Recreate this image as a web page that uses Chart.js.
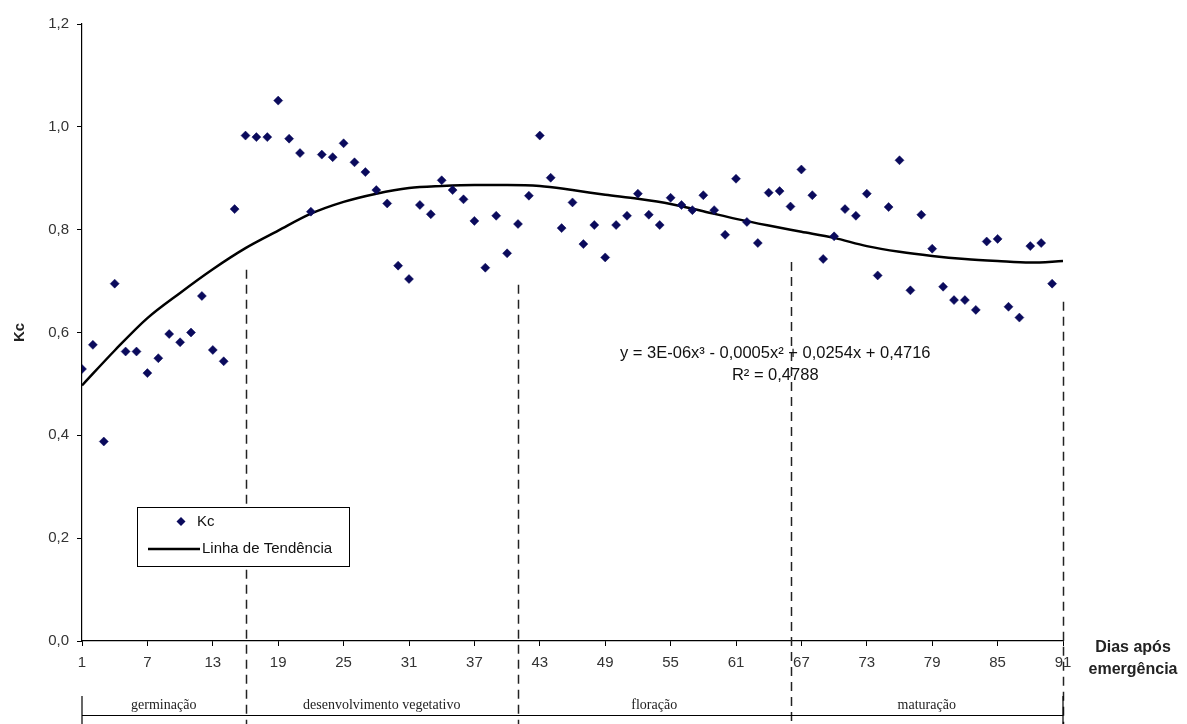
<!DOCTYPE html>
<html><head><meta charset="utf-8">
<script src="https://cdn.jsdelivr.net/npm/chart.js@4.4.1/dist/chart.umd.min.js"></script>
<style>html,body{margin:0;padding:0;background:#fff;}#wrap{width:1187px;height:724px;position:relative;}</style>
</head><body><div id="wrap"><canvas id="c" width="1187" height="724"></canvas></div>
<script>
const days = [1,2,3,4,5,6,7,8,9,10,11,12,13,14,15,16,17,18,19,20,21,22,23,24,25,26,27,28,29,30,
  31,32,33,34,35,36,37,38,39,40,41,42,43,44,45,46,47,48,49,50,51,52,53,54,55,56,57,58,59,60,
  61,62,63,64,65,66,67,68,69,70,71,72,73,74,75,76,77,78,79,80,81,82,83,84,85,86,87,88,89,90];
const kcValues = [0.529,0.576,0.388,0.695,0.563,0.563,0.521,0.550,0.597,0.581,
  0.600,0.671,0.566,0.544,0.840,0.983,0.980,0.980,1.051,0.977,
  0.949,0.835,0.946,0.941,0.968,0.931,0.912,0.877,0.851,0.730,
  0.704,0.848,0.830,0.896,0.877,0.859,0.817,0.726,0.827,0.754,
  0.811,0.866,0.983,0.901,0.803,0.853,0.772,0.809,0.746,0.809,
  0.827,0.870,0.829,0.809,0.862,0.848,0.838,0.867,0.838,0.790,
  0.899,0.815,0.774,0.872,0.875,0.845,0.917,0.867,0.743,0.787,
  0.840,0.827,0.870,0.711,0.844,0.935,0.682,0.829,0.763,0.689,
  0.663,0.663,0.644,0.777,0.782,0.650,0.629,0.768,0.774,0.695];
const trendDays = [1,4,7,10,13,16,19,22,25,28,31,34,37,40,43,46,49,52,55,58,61,64,67,70,73,76,79,82,85,88,91];
const trendValues = [0.497,0.565,0.628,0.677,0.723,0.764,0.798,0.831,0.854,0.870,0.881,0.885,0.887,0.887,0.885,0.877,0.868,0.860,0.850,0.836,0.821,0.808,0.796,0.784,0.768,0.757,0.749,0.743,0.739,0.736,0.739];
const xTickLabels = [1,7,13,19,25,31,37,43,49,55,61,67,73,79,85,91];
const yTickValues = [0,0.2,0.4,0.6,0.8,1.0,1.2];
const phaseNames = ['germinação','desenvolvimento vegetativo','floração','maturação'];
const phaseBounds = [1,16,41,66,91];
const phaseDashTop = [0.722,0.693,0.737,0.660];
const equationLines = ['y = 3E-06x\u00B3 - 0,0005x\u00B2 + 0,0254x + 0,4716','R\u00B2 = 0,4788'];
const yTitle = 'Kc';
const xTitleLines = ['Dias após','emergência'];
const seriesLabels = ['Kc','Linha de Tendência'];

const navy = '#0a0a5c';

const extras = {
  id: 'extras',
  afterDraw(chart) {
    const ctx = chart.ctx, xs = chart.scales.x, ys = chart.scales.y;
    const H = chart.height;
    ctx.save();
    // dashed phase lines
    ctx.strokeStyle = '#222'; ctx.lineWidth = 1.5; ctx.setLineDash([9,6]);
    for (let i = 1; i < phaseBounds.length; i++) {
      const px = Math.round(xs.getPixelForValue(phaseBounds[i])) + 0.5;
      ctx.beginPath(); ctx.moveTo(px, ys.getPixelForValue(phaseDashTop[i-1])); ctx.lineTo(px, H); ctx.stroke();
    }
    ctx.setLineDash([]);
    // phase band
    const bandY = H - 8.5;
    ctx.strokeStyle = '#000'; ctx.lineWidth = 1.2;
    const xl = xs.getPixelForValue(phaseBounds[0]), xr = xs.getPixelForValue(phaseBounds[phaseBounds.length-1]);
    ctx.beginPath(); ctx.moveTo(xl, bandY); ctx.lineTo(xr, bandY); ctx.stroke();
    ctx.beginPath(); ctx.moveTo(xl, H - 28); ctx.lineTo(xl, H); ctx.stroke();
    ctx.beginPath(); ctx.moveTo(xr, H - 28); ctx.lineTo(xr, H); ctx.stroke();
    ctx.fillStyle = '#222'; ctx.font = '14px "Liberation Serif", "DejaVu Serif", serif';
    ctx.textAlign = 'center'; ctx.textBaseline = 'middle';
    for (let i = 0; i < phaseNames.length; i++) {
      const cx = xs.getPixelForValue((phaseBounds[i] + phaseBounds[i+1]) / 2);
      ctx.fillText(phaseNames[i], cx, H - 19);
    }
    // x title
    ctx.fillStyle = '#222'; ctx.font = 'bold 16px "Liberation Sans", Arial, sans-serif';
    ctx.fillText(xTitleLines[0], 1133, 648);
    ctx.fillText(xTitleLines[1], 1133, 670);
    // y title
    ctx.save(); ctx.translate(20, ys.getPixelForValue(0.6)); ctx.rotate(-Math.PI/2);
    ctx.font = 'bold 15px "Liberation Sans", Arial, sans-serif'; ctx.fillText(yTitle, 0, 0); ctx.restore();
    // equation
    ctx.font = '16.5px "Liberation Sans", Arial, sans-serif'; ctx.fillStyle = '#111';
    const ex = xs.getPixelForValue(64.6), ey = ys.getPixelForValue(0.56);
    ctx.fillText(equationLines[0], ex, ey);
    ctx.fillText(equationLines[1], ex, ey + 22);
    // legend
    const lx = 137, ly = 507, lw = 212, lh = 59;
    ctx.fillStyle = '#fff'; ctx.fillRect(lx, ly, lw, lh);
    ctx.strokeStyle = '#000'; ctx.lineWidth = 1; ctx.strokeRect(lx + 0.5, ly + 0.5, lw, lh);
    ctx.fillStyle = navy;
    ctx.beginPath(); ctx.moveTo(181, ly + 10); ctx.lineTo(185.5, ly + 14.5); ctx.lineTo(181, ly + 19); ctx.lineTo(176.5, ly + 14.5); ctx.closePath(); ctx.fill();
    ctx.strokeStyle = '#000'; ctx.lineWidth = 2.5;
    ctx.beginPath(); ctx.moveTo(148, ly + 42); ctx.lineTo(200, ly + 42); ctx.stroke();
    ctx.fillStyle = '#111'; ctx.textAlign = 'left'; ctx.font = '15px "Liberation Sans", Arial, sans-serif';
    ctx.fillText(seriesLabels[0], 197, ly + 15);
    ctx.fillText(seriesLabels[1], 202, ly + 42);
    ctx.restore();
  }
};

new Chart(document.getElementById('c'), {
  type: 'scatter',
  data: {
    datasets: [
      { label: seriesLabels[1], type: 'line', data: trendDays.map((d, i) => ({x: d, y: trendValues[i]})),
        borderColor: '#000', borderWidth: 2.5, pointRadius: 0, cubicInterpolationMode: 'monotone', fill: false, order: 2 },
      { label: seriesLabels[0], data: days.map((d, i) => ({x: d, y: kcValues[i]})),
        pointStyle: 'rectRot', pointRadius: 4.5, backgroundColor: navy, borderColor: navy, borderWidth: 0.5, order: 1 }
    ]
  },
  options: {
    responsive: false, animation: false, devicePixelRatio: 1,
    layout: { padding: { left: 0, right: 124, top: 24, bottom: 0 } },
    plugins: { legend: { display: false }, tooltip: { enabled: false } },
    scales: {
      x: {
        type: 'linear', min: 1, max: 91,
        afterBuildTicks: s => { s.ticks = xTickLabels.map(v => ({value: v})); },
        afterFit: s => { s.height = 83; },
        grid: { drawOnChartArea: false, drawTicks: true, tickLength: 5, color: '#000' },
        border: { display: true, color: '#000', width: 1.2 },
        ticks: { color: '#333', font: { size: 15, family: '"Liberation Sans", Arial, sans-serif' }, padding: 8, maxRotation: 0, autoSkip: false }
      },
      y: {
        min: 0, max: 1.2,
        afterBuildTicks: s => { s.ticks = yTickValues.map(v => ({value: v})); },
        afterFit: s => { s.width = 82; },
        grid: { drawOnChartArea: false, drawTicks: true, tickLength: 5, color: '#000' },
        border: { display: true, color: '#000', width: 1.2 },
        ticks: { color: '#333', font: { size: 15, family: '"Liberation Sans", Arial, sans-serif' }, padding: 8,
          callback: v => v.toFixed(1).replace('.', ',') }
      }
    }
  },
  plugins: [extras]
});
</script></body></html>
